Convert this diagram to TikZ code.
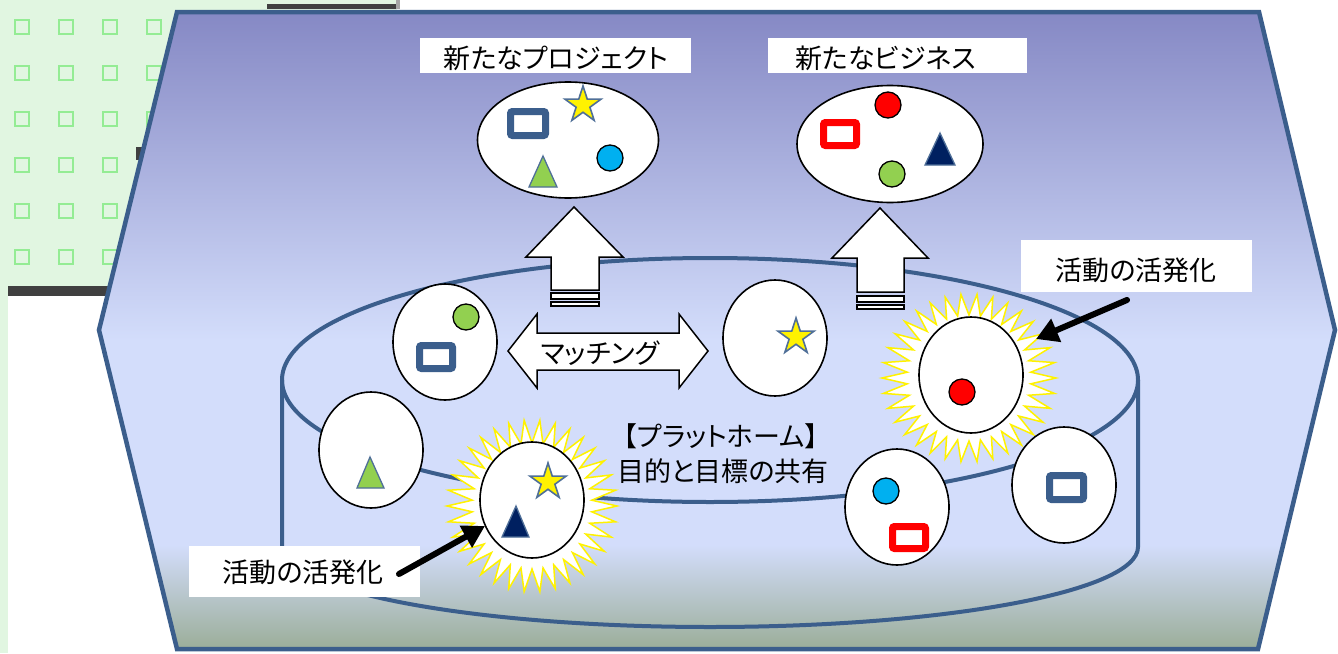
\documentclass[tikz,border=0pt]{standalone}
\usepackage{fontspec}
\setmainfont{Noto Sans CJK JP}[RawFeature=+palt]
\usetikzlibrary{shapes.geometric,arrows.meta,calc}
\definecolor{panelgreen}{HTML}{E1F6E1}
\definecolor{sqgreen}{HTML}{94EC94}
\definecolor{darkbar}{HTML}{404040}
\definecolor{hextop}{HTML}{8588C4}
\definecolor{hexmid}{HTML}{D3DDFB}
\definecolor{hexbot}{HTML}{99AC96}
\definecolor{steel}{HTML}{3B5E8C}
\definecolor{cyanc}{HTML}{00B0F0}
\definecolor{lgreen}{HTML}{92D050}
\definecolor{navy}{HTML}{002060}
\definecolor{starborder}{HTML}{4F6F98}
\tikzset{
  ell/.style={ellipse, draw=black, line width=1.6, fill=white, inner sep=0, minimum width=104, minimum height=116},
  dot/.style={circle, draw=black, line width=1.3, inner sep=0, minimum size=26},
  icon/.style={line width=7, rounded corners=2},
  starsh/.style={star, star points=5, star point ratio=2.618, fill=yellow, draw=starborder, line width=1.6, inner sep=0, minimum size=38},
  tri/.style={draw=starborder, line width=1.3},
  burst/.style={draw=yellow, line width=1.5, fill=white},
  lblbox/.style={fill=white, inner sep=0},
  txt/.style={font=\fontsize{27}{30}\selectfont, inner sep=0},
  blockarr/.style={draw=black, fill=white, line width=1.5, line join=miter},
  actarrow/.style={line width=6, line cap=round, -{Triangle[length=22pt,width=24pt]}},
  cyl/.style={draw=steel, line width=4},
}
\begin{document}
\begin{tikzpicture}[x=1pt,y=-1pt]
\useasboundingbox (0,0) rectangle (1338,653);
% background
\fill[white] (0,0) rectangle (1338,653);
\fill[panelgreen] (0,0) rectangle (397,290);
\fill[panelgreen] (0,0) rectangle (8,653);
\foreach \i in {0,...,8}{\foreach \j in {0,...,5}{
  \draw[sqgreen, line width=2] ({22+44*\i-7},{27+46*\j-7}) rectangle ++(14,14);
}}
\fill[darkbar] (267,4) rectangle (397,9);
\fill[gray!70] (396,0) rectangle (400,9);
\fill[darkbar] (8,286) rectangle (180,296);
\fill[darkbar] (136,147) rectangle (150,160);
% hexagon
\begin{scope}
\clip (177,12) -- (1259,12) -- (1335,330) -- (1258,649) -- (177,649) -- (99,330) -- cycle;
\fill[top color=hextop, bottom color=hexmid] (90,10) rectangle (1340,340);
\fill[hexmid] (90,339) rectangle (1340,546);
\fill[top color=hexmid, bottom color=hexbot] (90,545) rectangle (1340,652);
\end{scope}
\draw[steel, line width=4.5, line join=miter] (177,12) -- (1259,12) -- (1335,330) -- (1258,649) -- (177,649) -- (99,330) -- cycle;
% cylinder
\draw[cyl] (710,380) ellipse [x radius=428, y radius=122];
\draw[cyl] (282,380) -- (282,547) arc[start angle=180, end angle=0, x radius=428, y radius=80] -- (1138,380);
% block arrows up
\draw[blockarr] (574,207) -- (623,257) -- (599,257) -- (599,290) -- (551,290) -- (551,257) -- (526,257) -- cycle;
\draw[blockarr, line width=1.2] (551,293) rectangle (599,299);
\draw[blockarr, line width=1.2] (551,302) rectangle (599,306);
\draw[blockarr] (880,208) -- (928,258) -- (904,258) -- (904,292) -- (857,292) -- (857,258) -- (832,258) -- cycle;
\draw[blockarr, line width=1.2] (857,296) rectangle (904,302);
\draw[blockarr, line width=1.2] (857,305) rectangle (904,309);
% double arrow
\draw[blockarr] (508,351) -- (537,314) -- (537,333) -- (679,333) -- (679,314) -- (708,351) -- (679,388) -- (679,370) -- (537,370) -- (537,388) -- cycle;
\node[txt] (match) at (600,353) {マッチング};
% top ellipses
\node[ell, minimum width=181, minimum height=116] (proj) at (568,140) {};
\draw[steel, icon] (510.5,111.5) rectangle (545.5,135.5);
\node[starsh] (pstar) at (583,105) {};
\node[dot, fill=cyanc] (pcirc) at (610,158) {};
\draw[tri, fill=lgreen] (543,156) -- (557,187) -- (529,187) -- cycle;
\node[ell, minimum width=186, minimum height=117] (bus) at (890,144) {};
\node[dot, fill=red] (bcirc1) at (888,105) {};
\draw[red, icon] (823.5,122.5) rectangle (856.5,145.5);
\draw[tri, fill=navy] (940,133) -- (955,165) -- (925,165) -- cycle;
\node[dot, fill=lgreen] (bcirc2) at (892,174) {};
% labels top
\node[lblbox, minimum width=271, minimum height=35] (lproj) at (555.5,55.5) {};
\node[txt] (tproj) at (556,58) {新たなプロジェクト};
\node[lblbox, minimum width=259, minimum height=35] (lbus) at (897.5,55.5) {};
\node[txt, anchor=west] (tbus) at (795,58) {新たなビジネス};
% small ellipses
\node[ell] (e1) at (445,342) {};
\node[dot, fill=lgreen] (e1c) at (466,317) {};
\draw[steel, icon] (419.5,345.5) rectangle (452.5,368.5);
\node[ell] (e2) at (775,338) {};
\node[starsh] (e2s) at (796,337) {};
\node[ell] (e3) at (371,450) {};
\draw[tri, fill=lgreen] (370,457) -- (384,488) -- (357,488) -- cycle;
% burst left
\filldraw[burst] (617,506) \foreach \k [evaluate=\k as \rx using {60+25*(1-mod(\k,2))}, evaluate=\k as \ry using {63+23*(1-mod(\k,2))}, evaluate=\k as \ang using {\k*5.294118}] in {1,...,67}{ -- ({532+\rx*cos(\ang)},{506+\ry*sin(\ang)}) } -- cycle;
\node[ell] (e4) at (532,500) {};
\node[starsh] (e4s) at (548,482) {};
\draw[tri, fill=navy] (516,506) -- (529,537) -- (502,537) -- cycle;
% burst right
\filldraw[burst] (1056,378) \foreach \k [evaluate=\k as \rx using {62+25*(1-mod(\k,2))}, evaluate=\k as \ry using {63+21*(1-mod(\k,2))}, evaluate=\k as \ang using {\k*5.294118}] in {1,...,67}{ -- ({969+\rx*cos(\ang)},{378+\ry*sin(\ang)}) } -- cycle;
\node[ell] (e5) at (971,375) {};
\node[dot, fill=red] (e5c) at (962,392) {};
\node[ell] (e6) at (897,507) {};
\node[dot, fill=cyanc] (e6c) at (886,491) {};
\draw[red, icon] (892.5,526.5) rectangle (925.5,548.5);
\node[ell] (e7) at (1064,485) {};
\draw[steel, icon] (1049.5,475.5) rectangle (1083.5,499.5);
% center text
\node[txt] (plat1) at (721,436) {【プラットホーム】};
\node[txt] (plat2) at (723,471) {目的と目標の共有};
% activity labels
\node[lblbox, minimum width=231, minimum height=52] (actR) at (1136.5,266) {};
\node[txt] (actRt) at (1136,270) {活動の活発化};
\node[lblbox, minimum width=231, minimum height=51] (actL) at (304.5,571.5) {};
\node[txt] (actLt) at (303,572) {活動の活発化};
\coordinate (aRs) at (1127,300);
\coordinate (aRe) at (1036,339);
\coordinate (aLs) at (399,574);
\coordinate (aLe) at (485,526);
\draw[actarrow] (aRs) -- (aRe);
\draw[actarrow] (aLs) -- (aLe);
\end{tikzpicture}
\end{document}
